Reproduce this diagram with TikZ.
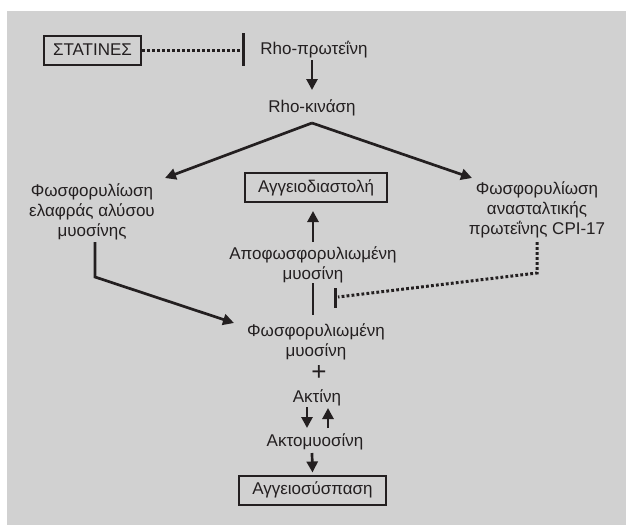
\documentclass[tikz,border=0pt]{standalone}
\usepackage{fontspec}
\setmainfont{Liberation Sans}
\usetikzlibrary{arrows.meta,positioning}
\definecolor{panelgray}{HTML}{D1D1D1}
\definecolor{inkblack}{HTML}{231F20}

\begin{document}
\begin{tikzpicture}[x=1pt, y=-1pt,
  every node/.style = {text=inkblack, font=\fontsize{17}{20}\selectfont},
  txt/.style = {align=center, inner sep=1pt},
  box/.style = {draw=inkblack, line width=2pt, minimum height=29pt, inner sep=4pt, align=center},
  arrow/.style = {draw=inkblack, line width=2.7pt, -{Triangle[length=11pt, width=11pt]}},
  link/.style = {draw=inkblack, line width=2.7pt},
  inhib/.style = {draw=inkblack, line width=3pt, dash pattern=on 2.8pt off 2.2pt},
  tbar/.style = {draw=inkblack, line width=3pt}
  ]

% Background panel
\useasboundingbox (0,0) rectangle (626,525);
\fill[panelgray] (7,11) rectangle (626,525);

% Top row: statins and Rho
\node[box, minimum width=97pt] (statins) at (92.5,50) {ΣΤΑΤΙΝΕΣ};
\node[txt] (rhop) at (314,50) {Rho-πρωτεΐνη};
\node[txt] (rhok) at (312,108) {Rho-κινάση};
\coordinate (apex) at (312,123);

% Middle row: the two phosphorylations
\node[txt] (lcp) at (92,212) {Φωσφορυλίωση\\ελαφράς αλύσου\\μυοσίνης};
\node[txt] (cpi) at (537,210) {Φωσφορυλίωση\\ανασταλτικής\\πρωτεΐνης CPI-17};
\node[box, minimum width=142pt] (vasod) at (316,187.5) {Αγγειοδιαστολή};
\node[txt] (dephos) at (313,265) {Αποφωσφορυλιωμένη\\μυοσίνη};

% Bottom: myosin and actin
\node[txt] (phos) at (316,342) {Φωσφορυλιωμένη\\μυοσίνη};
\node[font=\fontsize{26}{26}\selectfont, inner sep=0pt] (plus) at (319,373) {+};
\node[txt] (actin) at (317,398) {Ακτίνη};
\node[txt] (actomyo) at (315,442) {Ακτομυοσίνη};
\node[box, minimum width=147pt] (vasoc) at (312.5,490) {Αγγειοσύσπαση};

% Bend points
\coordinate (lcpturn) at (95,277);
\coordinate (cpiturn) at (537,273);
\coordinate (mlcpend) at (338,297);

% Draw arrows
\draw[inhib] (statins.east) -- (240,50);
\draw[tbar] (243,33) -- (243,66);

\draw[arrow] ([yshift=-10pt]rhok.center |- rhop.center) -- ([yshift=18pt]rhok.center);
\draw[arrow] (apex) -- (165,178);
\draw[arrow] (apex) -- (472,178);

\draw[link, -{Triangle[length=11pt, width=11pt]}] ([xshift=3pt, yshift=-30pt]lcp.center) -- (lcpturn) -- (234,323);
\draw[inhib] ([yshift=-32pt]cpi.center) -- (cpiturn) -- (mlcpend);
\draw[tbar] (335,288) -- (335,308);

\draw[arrow] ([yshift=23pt]dephos.center) -- ([yshift=-8pt]dephos.center |- vasod.south);
\draw[link] ([yshift=-18pt]dephos.center) -- ([yshift=27pt]dephos.center |- phos.center);

\draw[arrow] ([xshift=-10pt, yshift=-9pt]actin.center) -- ([xshift=-8pt, yshift=14pt]actomyo.center);
\draw[arrow] ([xshift=13pt, yshift=14pt]actomyo.center) -- ([xshift=11pt, yshift=-10pt]actin.center);
\draw[arrow] ([xshift=-3pt, yshift=-11pt]actomyo.center) -- ([yshift=2pt]vasoc.north);
\end{tikzpicture}
\end{document}
